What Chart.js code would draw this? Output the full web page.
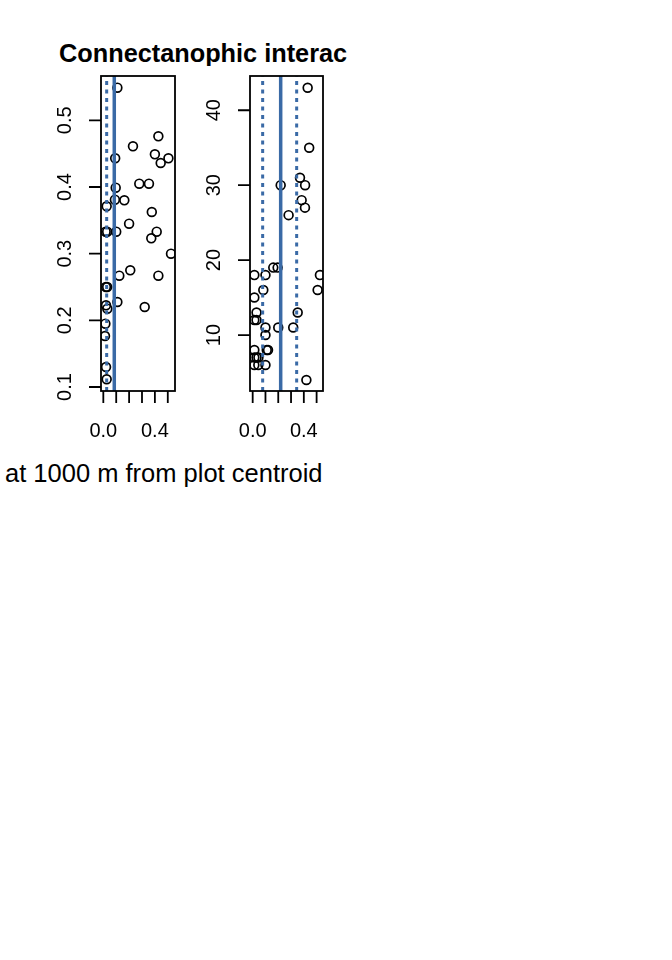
<!DOCTYPE html>
<html lang="en">
<head>
  <meta charset="UTF-8">
  <title>Connectanophic interactions</title>
  <script src="https://cdn.jsdelivr.net/npm/chart.js"></script>
  <style>
    body {
      margin: 0;
      width: 672px;
      height: 960px;
      background: #fff;
      position: relative;
      font-family: "Liberation Sans", Arial, sans-serif;
    }
    .cv { position: absolute; top: 0; }
    #title {
      position: absolute;
      left: 59px;
      top: 41px;
      width: 288px;
      overflow: hidden;
      white-space: nowrap;
      font-weight: bold;
      font-size: 25.3px;
      line-height: 25px;
    }
    #sub {
      position: absolute;
      left: 5px;
      top: 461px;
      white-space: nowrap;
      font-size: 25.5px;
      line-height: 25.5px;
    }
  </style>
</head>
<body>
  <div id="title">Connectanophic interact</div>
  <div id="sub">at 1000 m from plot centroid</div>
  <div class="cv" style="left:0px;width:190px;height:450px"><canvas id="c1"></canvas></div>
  <div class="cv" style="left:190px;width:150px;height:450px"><canvas id="c2"></canvas></div>

  <script>
    // left panel: proportions
    const p1X = [0.109, 0.23, 0.427, 0.40, 0.505, 0.445, 0.092, 0.096, 0.279, 0.354, 0.09, 0.163,
                 0.026, 0.376, 0.20, 0.018, 0.030, 0.10, 0.414, 0.372, 0.525, 0.209, 0.124, 0.427,
                 0.020, 0.030, 0.321, 0.109, 0.021, 0.031, 0.016, 0.013, 0.021, 0.026];
    const p1Y = [0.549, 0.461, 0.476, 0.449, 0.443, 0.436, 0.443, 0.399, 0.405, 0.405, 0.381, 0.38,
                 0.371, 0.3625, 0.345, 0.333, 0.333, 0.333, 0.333, 0.323, 0.30, 0.275, 0.267, 0.267,
                 0.25, 0.25, 0.22, 0.2275, 0.2225, 0.2175, 0.195, 0.1765, 0.13, 0.1115];
    const p1Median = [0.085];
    const p1Bounds = [0.026];
    const p1YTicks = [0.1, 0.2, 0.3, 0.4, 0.5];

    // right panel: counts
    const p2X = [0.43, 0.442, 0.37, 0.219, 0.41, 0.383, 0.409, 0.281, 0.161, 0.195, 0.013, 0.10,
                 0.526, 0.083, 0.508, 0.013, 0.03, 0.352, 0.013, 0.03, 0.10, 0.20, 0.317, 0.10,
                 0.013, 0.11, 0.12, 0.013, 0.03, 0.045, 0.013, 0.044, 0.10, 0.42];
    const p2Y = [43, 35, 31, 30, 30, 28, 27, 26, 19, 19, 18, 18,
                 18, 16, 16, 15, 13, 13, 12, 12, 11, 11, 11, 10,
                 8, 8, 8, 7, 7, 7, 6, 6, 6, 4];
    const p2Median = [0.219];
    const p2Bounds = [0.078, 0.344];
    const p2YTicks = [10, 20, 30, 40];

    const xTicks = [0, 0.1, 0.2, 0.3, 0.4, 0.5];
    const xTickLabels = ['0.0', '', '', '', '0.4', ''];

    const lineBlue = '#3a6aa6';
    const axisFont = '20px "Liberation Sans", Arial, sans-serif';

    // R-style box, ticks and labels
    const rAxes = {
      id: 'rAxes',
      afterDraw(chart, args, opts) {
        const ctx = chart.ctx;
        const a = chart.chartArea;
        const xs = chart.scales.x, ys = chart.scales.y;
        ctx.save();
        ctx.strokeStyle = '#000';
        ctx.lineWidth = 1.8;
        ctx.strokeRect(a.left, a.top, a.right - a.left, a.bottom - a.top);
        ctx.fillStyle = '#000';
        ctx.font = axisFont;
        ctx.textAlign = 'center';
        ctx.textBaseline = 'middle';
        ctx.beginPath();
        xTicks.forEach(v => {
          const px = xs.getPixelForValue(v);
          ctx.moveTo(px, a.bottom);
          ctx.lineTo(px, a.bottom + 12);
        });
        opts.yTicks.forEach(v => {
          const py = ys.getPixelForValue(v);
          ctx.moveTo(a.left, py);
          ctx.lineTo(a.left - 12, py);
        });
        ctx.stroke();
        xTicks.forEach((v, i) => {
          if (xTickLabels[i]) ctx.fillText(xTickLabels[i], xs.getPixelForValue(v), a.bottom + 40);
        });
        opts.yTicks.forEach(v => {
          ctx.save();
          ctx.translate(a.left - 36, ys.getPixelForValue(v));
          ctx.rotate(-Math.PI / 2);
          ctx.fillText(String(v), 0, 0);
          ctx.restore();
        });
        ctx.restore();
      }
    };

    function vline(v, ymin, ymax, dashed) {
      return {
        type: 'line',
        data: [{x: v, y: ymin}, {x: v, y: ymax}],
        borderColor: lineBlue,
        borderWidth: dashed ? 3 : 3.5,
        borderDash: dashed ? [4, 4.5] : [],
        pointRadius: 0,
        order: 0
      };
    }

    function makePanel(id, xs, ys, median, bounds, yTicks, xr, yr, pad) {
      const pts = xs.map((x, i) => ({x: x, y: ys[i]}));
      const datasets = [
        ...median.map(v => vline(v, yr[0], yr[1], false)),
        ...bounds.map(v => vline(v, yr[0], yr[1], true)),
        {
          type: 'scatter',
          data: pts,
          pointRadius: 4.4,
          pointBorderWidth: 1.7,
          pointBorderColor: '#000',
          pointBackgroundColor: 'rgba(0,0,0,0)',
          order: 1
        }
      ];
      new Chart(document.getElementById(id), {
        type: 'scatter',
        data: { datasets: datasets },
        options: {
          responsive: true,
          maintainAspectRatio: false,
          animation: false,
          layout: { padding: pad },
          plugins: {
            legend: { display: false },
            tooltip: { enabled: false },
            rAxes: { yTicks: yTicks }
          },
          scales: {
            x: { type: 'linear', display: false, min: xr[0], max: xr[1] },
            y: { type: 'linear', display: false, min: yr[0], max: yr[1] }
          }
        },
        plugins: [rAxes]
      });
    }

    makePanel('c1', p1X, p1Y, p1Median, p1Bounds, p1YTicks,
      [-0.018, 0.556], [0.094, 0.5665], {left: 101, right: 15, top: 76, bottom: 59});
    makePanel('c2', p2X, p2Y, p2Median, p2Bounds, p2YTicks,
      [-0.021, 0.55], [2.53, 44.57], {left: 60, right: 17, top: 76, bottom: 59});
  </script>
</body>
</html>
